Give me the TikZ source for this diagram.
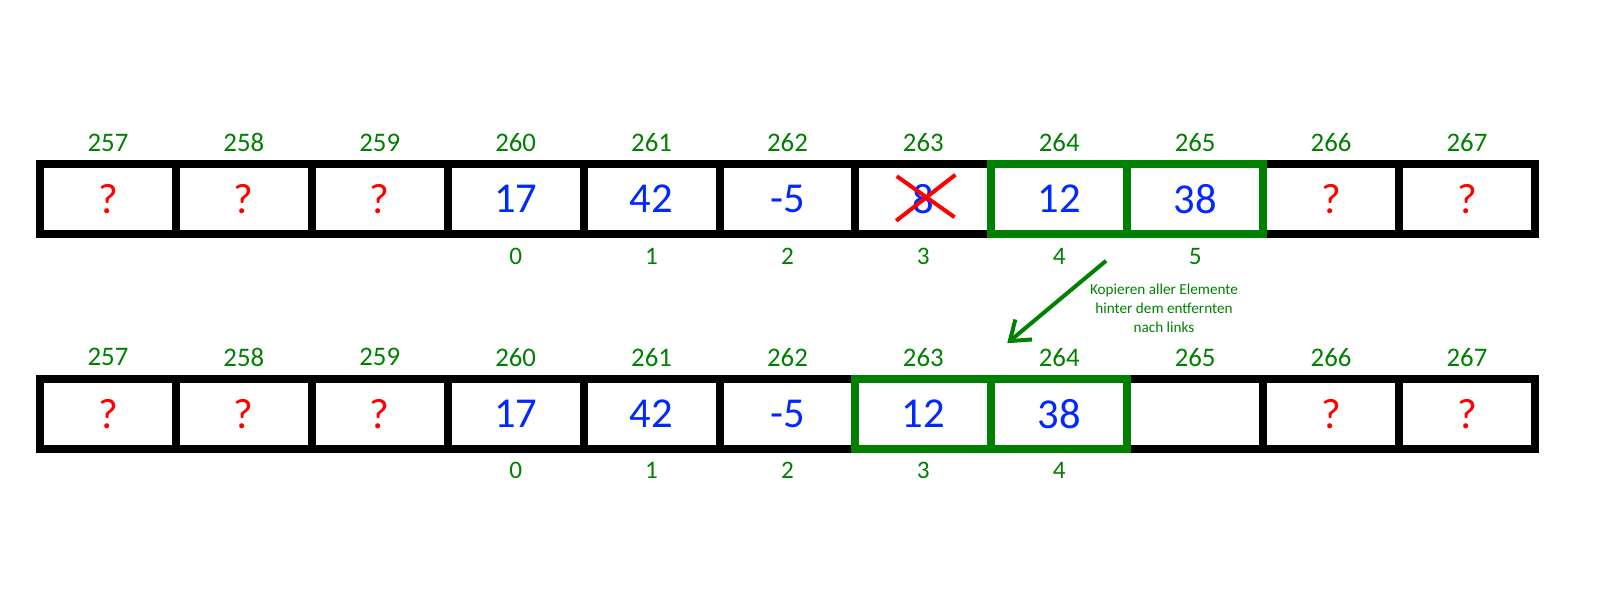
\documentclass[tikz,border=0pt]{standalone}
\usepackage{fontspec}
\setmainfont{Carlito}
\usetikzlibrary{calc, positioning, arrows.meta}
\definecolor{addrgreen}{RGB}{0,128,0}
\definecolor{valblue}{RGB}{0,40,255}
\definecolor{qred}{RGB}{255,0,0}

\begin{document}
\begin{tikzpicture}[
            cellnode/.style={rectangle, draw=black, line width=4pt, minimum width=67.95pt, minimum height=34.85pt, inner sep=0pt, outer sep=0pt, font=\fontsize{21.3}{24}\selectfont},
            greencell/.style={cellnode, draw=addrgreen},
            qmark/.style={text=qred},
            number/.style={text=valblue},
            addrlabel/.style={text=addrgreen, inner sep=0pt, font=\fontsize{13.4}{15}\selectfont},
            idxlabel/.style={text=addrgreen, inner sep=0pt, font=\fontsize{12.6}{14}\selectfont},
            crossline/.style={draw=qred, line width=2pt},
            copyarrow/.style={draw=addrgreen, line width=2pt, -{Straight Barb[length=9pt, width=13pt]}},
            copytext/.style={text=addrgreen, align=center, inner sep=0pt, font=\fontsize{7.6}{9.5}\selectfont},
            ]
            \useasboundingbox (0,0) rectangle (800pt,-300pt);

            %Top row
            \foreach \i/\v/\s in {0/?/qmark, 1/?/qmark, 2/?/qmark, 3/17/number, 4/42/number, 5/-5/number, 6/8/number, 9/?/qmark, 10/?/qmark}
              \node[cellnode, \s] (top\i) at ({53.98pt+\i*67.95pt}, -99.4pt) {\v};
            \foreach \i/\v in {7/12, 8/38}
              \node[greencell, number] (top\i) at ({53.98pt+\i*67.95pt}, -99.4pt) {\v};

            %Bottom row
            \foreach \i/\v/\s in {0/?/qmark, 1/?/qmark, 2/?/qmark, 3/17/number, 4/42/number, 5/-5/number, 8/{}/number, 9/?/qmark, 10/?/qmark}
              \node[cellnode, \s] (bot\i) at ({53.98pt+\i*67.95pt}, -207pt) {\v};
            \foreach \i/\v in {6/12, 7/38}
              \node[greencell, number] (bot\i) at ({53.98pt+\i*67.95pt}, -207pt) {\v};

            %Addresses and indices
            \foreach \i in {0,...,10} {
              \pgfmathtruncatemacro\addr{257+\i}
              \node[addrlabel] (topaddr\i) at ([yshift=10.6pt]top\i.north) {\addr};
              \node[addrlabel] (botaddr\i) at ([yshift=10.9pt]bot\i.north) {\addr};
            }
            \foreach \i in {3,...,8} {
              \pgfmathtruncatemacro\idx{\i-3}
              \node[idxlabel] (topidx\i) at ([yshift=-11.2pt]top\i.south) {\idx};
            }
            \foreach \i in {3,...,7} {
              \pgfmathtruncatemacro\idx{\i-3}
              \node[idxlabel] (botidx\i) at ([yshift=-10.6pt]bot\i.south) {\idx};
            }

            %Removed element
            \draw[crossline] ($(top6.center)+(-13.3pt,11.3pt)$) -- ($(top6.center)+(15.6pt,-9.2pt)$);
            \draw[crossline] ($(top6.center)+(-13.6pt,-11pt)$) -- ($(top6.center)+(16pt,12pt)$);

            %Copy arrow
            \coordinate (copystart) at (553pt,-130.4pt);
            \coordinate (copyend) at (503.6pt,-171.6pt);
            \draw[copyarrow] (copystart) -- (copyend);
            \node[copytext] (copynote) at (582pt,-154pt) {Kopieren aller Elemente\\hinter dem entfernten\\nach links};
          \end{tikzpicture}
\end{document}
